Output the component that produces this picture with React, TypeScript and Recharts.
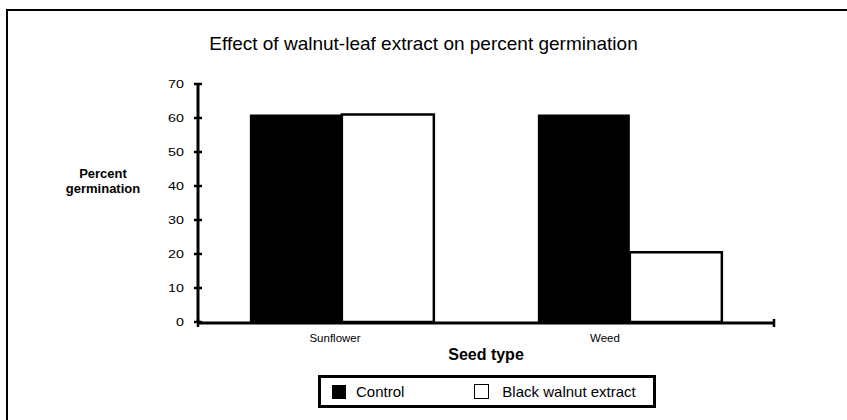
import { BarChart, Bar, XAxis, YAxis, Legend, Label } from 'recharts'

const seedTypes = ['Sunflower', 'Weed']
const controlValues = [61, 61]
const walnutValues = [61, 20.5]
const yTicks = [0, 10, 20, 30, 40, 50, 60, 70]
const edgeTicks = [0, 1, 2]

const data = seedTypes.map((seed, i) => ({
  seed,
  control: controlValues[i],
  walnut: walnutValues[i],
}))

const FONT = '"Liberation Sans", Arial, sans-serif'

// small nudges so labels sit where the original put them
const labelShift: Record<string, number> = { Sunflower: -7, Weed: -25 }

const YTick = ({ x, y, payload }: any) => (
  <g>
    <line x1={x - 4} x2={x + 4} y1={y} y2={y} stroke="#000" strokeWidth={2.5} />
    <text
      transform={`translate(${x - 14},${y + 4}) scale(1.3,1)`}
      textAnchor="end"
      fontSize={11}
      fill="#000"
      fontFamily={FONT}
    >
      {payload.value}
    </text>
  </g>
)

const EdgeTick = ({ x, y }: any) => (
  <line x1={x} x2={x} y1={y - 4} y2={y + 4} stroke="#000" strokeWidth={2.5} />
)

const CatTick = ({ x, y, payload }: any) => (
  <text
    transform={`translate(${x + (labelShift[payload.value] ?? 0)},${y + 20}) scale(1.15,1)`}
    textAnchor="middle"
    fontSize={10}
    fill="#000"
    fontFamily={FONT}
  >
    {payload.value}
  </text>
)

const LegendBox = () => (
  <div
    style={{
      boxSizing: 'border-box',
      width: 338,
      height: 33,
      border: '3px solid #000',
      display: 'flex',
      alignItems: 'center',
      fontFamily: FONT,
      fontSize: 15,
      color: '#000',
      background: '#fff',
    }}
  >
    <span style={{ width: 14, height: 14, background: '#000', marginLeft: 11, boxSizing: 'border-box' }} />
    <span style={{ marginLeft: 10 }}>Control</span>
    <span
      style={{
        width: 15,
        height: 15,
        border: '1.5px solid #000',
        marginLeft: 70,
        boxSizing: 'border-box',
      }}
    />
    <span style={{ marginLeft: 13 }}>Black walnut extract</span>
  </div>
)

export default function App() {
  return (
    <div
      style={{
        position: 'absolute',
        left: 0,
        top: 0,
        width: 847,
        height: 420,
        overflow: 'hidden',
        background: '#fff',
      }}
    >
      <div
        style={{
          position: 'absolute',
          left: 6,
          top: 9,
          width: 900,
          height: 500,
          border: '2px solid #000',
        }}
      />
      <div
        style={{
          position: 'absolute',
          left: 0,
          top: 33,
          width: 847,
          textAlign: 'center',
          fontFamily: FONT,
          fontSize: 19,
          paddingRight: 3,
        }}
      >
        Effect of walnut-leaf extract on percent germination
      </div>
      <div style={{ position: 'absolute', left: 0, top: 0 }}>
        <BarChart
          width={847}
          height={420}
          data={data}
          margin={{ top: 84, right: 73, left: 0, bottom: 63 }}
          barCategoryGap="18%"
          barGap={0}
        >
          <YAxis
            width={198}
            domain={[0, 70]}
            ticks={yTicks}
            interval={0}
            axisLine={{ stroke: '#000', strokeWidth: 3 }}
            tickLine={false}
            tickSize={0}
            tickMargin={0}
            tick={<YTick />}
          >
            <Label
              content={() => (
                <text textAnchor="middle" fontFamily={FONT} fontSize={13} fontWeight="bold" fill="#000">
                  <tspan x={103} y={178}>Percent</tspan>
                  <tspan x={103} y={193}>germination</tspan>
                </text>
              )}
            />
          </YAxis>
          <XAxis
            xAxisId="edge"
            type="number"
            domain={[0, 2]}
            ticks={edgeTicks}
            interval={0}
            height={1}
            axisLine={{ stroke: '#000', strokeWidth: 3 }}
            tickLine={false}
            tickSize={0}
            tickMargin={0}
            tick={<EdgeTick />}
          />
          <XAxis
            xAxisId="cat"
            dataKey="seed"
            height={1}
            axisLine={false}
            tickLine={false}
            tickSize={0}
            tickMargin={0}
            tick={<CatTick />}
          >
            <Label
              content={({ viewBox }: any) => (
                <text
                  x={viewBox.x + viewBox.width / 2}
                  y={viewBox.y + 38}
                  textAnchor="middle"
                  fontFamily={FONT}
                  fontSize={16}
                  fontWeight="bold"
                  fill="#000"
                >
                  Seed type
                </text>
              )}
            />
          </XAxis>
          <Legend
            content={<LegendBox />}
            wrapperStyle={{ position: 'absolute', left: 318, top: 375, width: 338, height: 33 }}
          />
          <Bar xAxisId="cat" dataKey="control" name="Control" fill="#000" isAnimationActive={false} />
          <Bar
            xAxisId="cat"
            dataKey="walnut"
            name="Black walnut extract"
            fill="#fff"
            stroke="#000"
            strokeWidth={2.5}
            isAnimationActive={false}
          />
        </BarChart>
      </div>
    </div>
  )
}
